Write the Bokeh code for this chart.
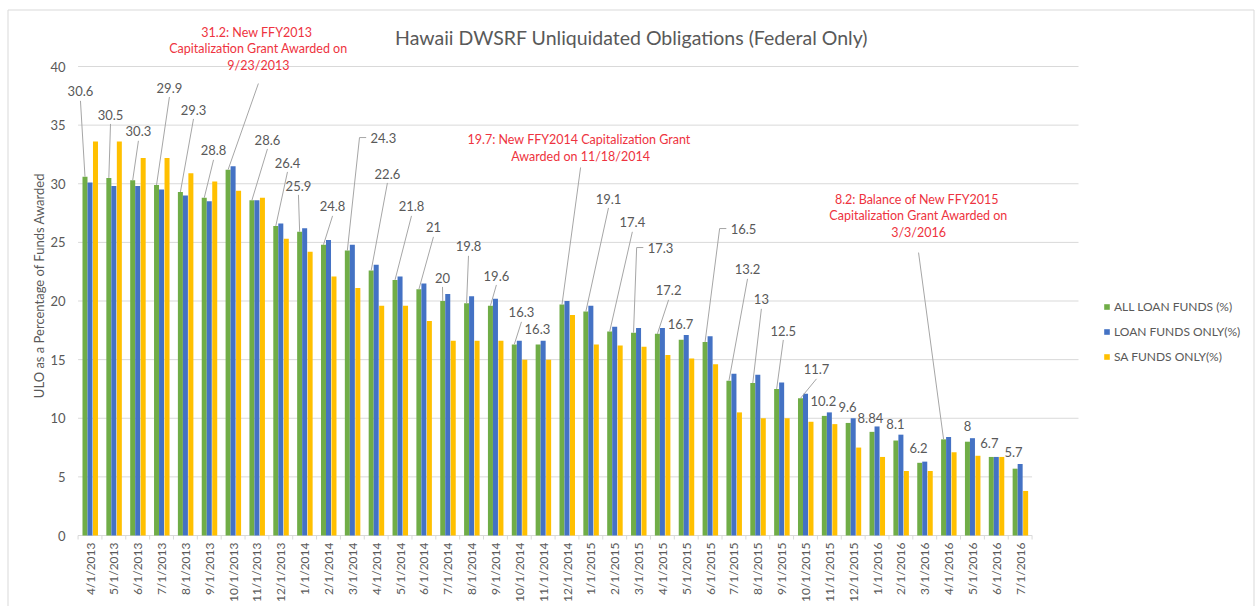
import math
from bokeh.plotting import figure
from bokeh.models import Range1d, Legend, LegendItem, ColumnDataSource
from bokeh.transform import dodge
from bokeh.core.properties import value
from bokeh.embed import file_html
from bokeh.resources import INLINE

# ---------------- data ----------------
months = ["4/1/2013", "5/1/2013", "6/1/2013", "7/1/2013", "8/1/2013", "9/1/2013",
          "10/1/2013", "11/1/2013", "12/1/2013",
          "1/1/2014", "2/1/2014", "3/1/2014", "4/1/2014", "5/1/2014", "6/1/2014",
          "7/1/2014", "8/1/2014", "9/1/2014", "10/1/2014", "11/1/2014", "12/1/2014",
          "1/1/2015", "2/1/2015", "3/1/2015", "4/1/2015", "5/1/2015", "6/1/2015",
          "7/1/2015", "8/1/2015", "9/1/2015", "10/1/2015", "11/1/2015", "12/1/2015",
          "1/1/2016", "2/1/2016", "3/1/2016", "4/1/2016", "5/1/2016", "6/1/2016",
          "7/1/2016"]

all_loan = [30.6, 30.5, 30.3, 29.9, 29.3, 28.8, 31.2, 28.6, 26.4,
            25.9, 24.8, 24.3, 22.6, 21.8, 21, 20, 19.8, 19.6, 16.3, 16.3, 19.7,
            19.1, 17.4, 17.3, 17.2, 16.7, 16.5, 13.2, 13, 12.5, 11.7, 10.2, 9.6,
            8.84, 8.1, 6.2, 8.2, 8, 6.7, 5.7]

loan_only = [30.1, 29.8, 29.8, 29.5, 29.0, 28.5, 31.5, 28.6, 26.6,
             26.2, 25.2, 24.8, 23.1, 22.1, 21.5, 20.6, 20.4, 20.2, 16.6, 16.6, 20.0,
             19.6, 17.8, 17.7, 17.7, 17.1, 17.0, 13.8, 13.7, 13.05, 12.1, 10.5, 10.0,
             9.3, 8.6, 6.3, 8.4, 8.3, 6.7, 6.1]

sa_only = [33.6, 33.6, 32.2, 32.2, 30.9, 30.2, 29.4, 28.8, 25.3,
           24.2, 22.1, 21.1, 19.6, 19.6, 18.3, 16.6, 16.6, 16.6, 15.0, 15.0, 18.8,
           16.3, 16.2, 16.1, 15.4, 15.1, 14.6, 10.5, 10.0, 10.0, 9.7, 9.5, 7.5,
           6.7, 5.5, 5.5, 7.1, 6.8, 6.7, 3.8]

series_names = ["ALL LOAN FUNDS (%)", "LOAN FUNDS ONLY(%)", "SA FUNDS ONLY(%)"]
y_ticks = [0, 5, 10, 15, 20, 25, 30, 35, 40]

chart_title = "Hawaii DWSRF Unliquidated Obligations (Federal Only)"
y_title = "ULO as a Percentage of Funds Awarded"

notes = {
    6: "31.2:  New FFY2013\nCapitalization Grant Awarded on\n9/23/2013",
    20: "19.7:  New FFY2014 Capitalization Grant\nAwarded on 11/18/2014",
    36: "8.2:  Balance of New FFY2015\nCapitalization Grant Awarded on\n3/3/2016",
}

# ---------------- layout (label placement, styles) ----------------
label_dx = [-0.19, 0.07, 0.24, 0.54, 0.55, 0.39, 1.27, 0.65, 0.49,
            -0.05, 0.38, 1.51, 0.68, 0.69, 0.61, -0.01, 0.08, 0.25, 0.30, -0.03, 0.78,
            0.95, 0.95, 1.13, 0.47, -0.03, 1.61, 0.78, 0.36, 0.28, 0.67, -0.04, -0.03,
            -0.07, -0.02, -0.05, -1.05, 0.0, -0.08, -0.07]
label_dy = [7.27, 5.4, 4.16, 8.3, 7.03, 4.04, 10.33, 5.17, 5.41,
            3.95, 3.26, 9.64, 8.27, 6.26, 5.27, 2.0, 4.85, 2.57, 2.72, 1.35, 13.35,
            9.64, 9.3, 7.26, 3.7, 1.3, 9.68, 9.49, 7.13, 4.98, 2.46, 1.31, 1.32,
            1.22, 1.37, 1.3, 19.09, 1.38, 1.23, 1.38]
# leader style: 0 none, 1 straight from below text, 2 bracket from left of text
leader = [1, 1, 1, 1, 1, 1, 1, 1, 1,
          1, 1, 2, 1, 1, 1, 1, 1, 1, 1, 0, 1,
          1, 1, 2, 1, 0, 2, 1, 1, 1, 1, 0, 0,
          0, 0, 0, 1, 0, 0, 0]
note_line_drop = {6: 2.98, 20: 1.66, 36: 3.16}

GREEN, BLUE, YELLOW = "#70AD47", "#4472C4", "#FFC000"
TXT = "#595959"
GRID = "#D9D9D9"
RED = "#EE3340"
FONT = "Lato"
bar_offsets = [-0.21, 0.0, 0.23]
bar_w = 0.21

W, H = 1256, 606
PX_X, PX_Y = 23.85, 11.725      # pixels per category / per percentage point
X0_PX, Y0_PX = 89.5, 535.0      # pixel position of first category centre / of value 0


def xd(px):
    return (px - X0_PX) / PX_X


def yd(py):
    return (Y0_PX - py) / PX_Y


n = len(months)
xs = list(range(n))

p = figure(width=W, height=H, output_backend="svg", toolbar_location=None,
           x_range=Range1d(xd(0), xd(W)), y_range=Range1d(yd(H), yd(0)),
           x_axis_location=None, y_axis_location=None,
           min_border=0, outline_line_color=None, background_fill_color="white",
           border_fill_color="white")
p.xgrid.visible = False
p.ygrid.visible = False

# chart border (left, top, right)
p.multi_line(xs=[[xd(7.5), xd(7.5), xd(1253.5), xd(1253.5)]],
             ys=[[yd(H), yd(9.5), yd(9.5), yd(H)]], line_color=GRID, line_width=1)

# gridlines (upper ones run further right, as in the source picture)
gx1 = [xd(1078) if t >= 10 else n - 0.5 for t in y_ticks]
p.segment(x0=[-0.5] * len(y_ticks), y0=y_ticks, x1=gx1, y1=y_ticks,
          line_color=GRID, line_width=1)

# category axis line + tick marks between categories
p.segment(x0=[-0.5], y0=[0], x1=[n - 0.5], y1=[0], line_color=GRID, line_width=1)
bnd = [i - 0.5 for i in range(n + 1)]
p.segment(x0=bnd, y0=[0] * len(bnd), x1=bnd, y1=[yd(Y0_PX + 4)] * len(bnd),
          line_color=GRID, line_width=1)

src = ColumnDataSource(dict(x=xs, a=all_loan, b=loan_only, c=sa_only))
r1 = p.vbar(x=dodge("x", bar_offsets[0]), top="a", width=bar_w, source=src,
            fill_color=GREEN, line_color=None)
r2 = p.vbar(x=dodge("x", bar_offsets[1]), top="b", width=bar_w, source=src,
            fill_color=BLUE, line_color=None)
r3 = p.vbar(x=dodge("x", bar_offsets[2]), top="c", width=bar_w, source=src,
            fill_color=YELLOW, line_color=None)

# data labels, notes & leader lines
gxs = [i + bar_offsets[0] for i in xs]
lab_x, lab_y, lab_t = [], [], []
nt_x, nt_y, nt_t = [], [], []
ml_x, ml_y = [], []
for i in xs:
    lx = gxs[i] + label_dx[i]
    ly = all_loan[i] + label_dy[i]
    if i in notes:
        nt_x.append(lx)
        nt_y.append(ly)
        nt_t.append(notes[i])
        ml_x.append([lx, gxs[i]])
        ml_y.append([ly - note_line_drop[i], all_loan[i]])
        continue
    lab_x.append(lx)
    lab_y.append(ly)
    lab_t.append(f"{all_loan[i]:g}")
    if leader[i] == 1:
        ml_x.append([lx, gxs[i]])
        ml_y.append([ly - 0.8, all_loan[i]])
    elif leader[i] == 2:
        ml_x.append([lx - 0.72, lx - 1.0, gxs[i]])
        ml_y.append([ly, ly, all_loan[i]])

p.multi_line(xs=ml_x, ys=ml_y, line_color="#A6A6A6", line_width=1)
p.text(x=lab_x, y=lab_y, text=lab_t, text_align="center", text_baseline="middle",
       text_color=TXT, text_font=value(FONT), text_font_size="13px")
p.text(x=nt_x, y=nt_y, text=nt_t, text_align="center", text_baseline="middle",
       text_color=RED, text_font=value(FONT), text_font_size="12.5px",
       text_line_height=1.1)

# title
p.text(x=[xd(631)], y=[yd(37)], text=[chart_title], text_align="center",
       text_baseline="middle", text_color=TXT, text_font=value(FONT),
       text_font_size="19.5px")

# y axis: tick labels and title
p.text(x=[xd(65)] * len(y_ticks), y=y_ticks, text=[str(t) for t in y_ticks],
       text_align="right", text_baseline="middle", text_color=TXT,
       text_font=value(FONT), text_font_size="13px")
p.text(x=[xd(38)], y=[yd(285)], text=[y_title], angle=math.pi / 2,
       text_align="center", text_baseline="middle", text_color=TXT,
       text_font=value(FONT), text_font_size="13px")

# x axis tick labels
p.text(x=xs, y=[yd(Y0_PX + 7)] * n, text=months, angle=math.pi / 2,
       text_align="right", text_baseline="middle", text_color=TXT,
       text_font=value(FONT), text_font_size="12px")

legend = Legend(items=[LegendItem(label=series_names[0], renderers=[r1]),
                       LegendItem(label=series_names[1], renderers=[r2]),
                       LegendItem(label=series_names[2], renderers=[r3])],
                location=(1103, H - 364), padding=0, margin=0, spacing=9,
                label_height=16, glyph_width=7, glyph_height=7, label_standoff=4,
                label_text_font=FONT, label_text_font_size="12px",
                label_text_color=TXT, border_line_color=None,
                background_fill_alpha=0)
p.add_layout(legend)

open("out.html", "w").write(file_html(p, INLINE))
